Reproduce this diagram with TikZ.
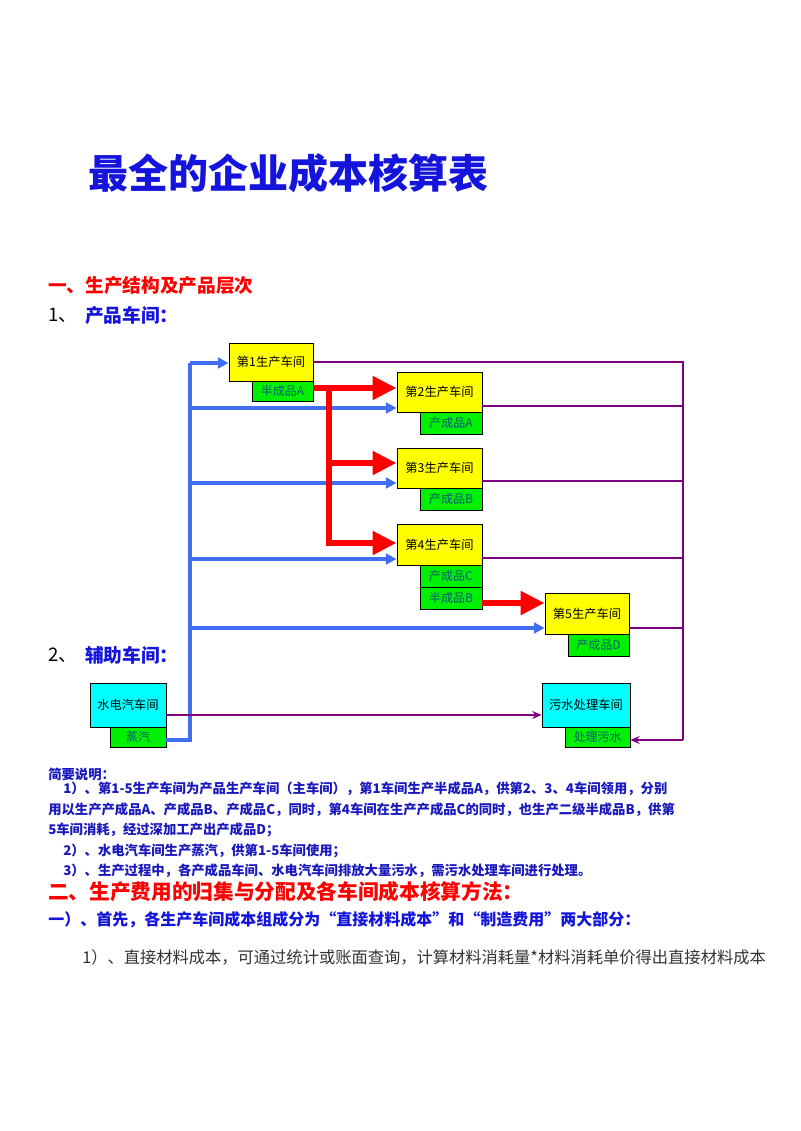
\documentclass[tikz,border=0pt]{standalone}
\usepackage{fontspec}
\setmainfont{Noto Sans CJK SC}
\usetikzlibrary{arrows.meta}
\definecolor{tblue}{RGB}{20,20,220}
\definecolor{dblue}{RGB}{25,25,190}
\definecolor{lblue}{RGB}{65,110,240}
\definecolor{purp}{RGB}{128,0,128}
\definecolor{gtxt}{RGB}{0,90,120}
\definecolor{ycol}{RGB}{255,255,0}
\definecolor{gcol}{RGB}{0,240,0}
\definecolor{ccol}{RGB}{0,255,255}
\begin{document}
\begin{tikzpicture}[x=0.75pt,y=-0.75pt,
  ybox/.style={draw=black,fill=ycol,line width=0.6pt,inner sep=0,font=\fontsize{9.2}{10}\selectfont,text=black},
  gbox/.style={draw=black,fill=gcol,line width=0.6pt,inner sep=0,font=\fontsize{9}{10}\selectfont,text=gtxt},
  cbox/.style={draw=black,fill=ccol,line width=0.6pt,inner sep=0,font=\fontsize{9.2}{10}\selectfont,text=black},
  bl/.style={draw=lblue,line width=2.3pt,-{Triangle[length=8pt,width=8pt]}},
  bll/.style={draw=lblue,line width=2.3pt},
  pu/.style={draw=purp,line width=1.5pt},
  pua/.style={draw=purp,line width=1.5pt,-{Stealth[length=7pt,width=6pt]}},
  rd/.style={draw=red,line width=5pt,-{Triangle[length=18pt,width=17pt]}},
  rdl/.style={draw=red,line width=5pt},
  txt/.style={anchor=west,inner sep=0,text=dblue,font=\fontsize{10}{12}\selectfont\bfseries}
]
\useasboundingbox (0,0) rectangle (800,1131);
\node[anchor=west,inner sep=0,text=tblue,font=\fontsize{30}{34}\selectfont\bfseries] (title) at (88,173) {最全的企业成本核算表};
\node[anchor=west,inner sep=0,text=red,font=\fontsize{14}{16}\selectfont\bfseries] (h1) at (48,285) {一、生产结构及产品层次};
\node[anchor=west,inner sep=0,font=\fontsize{14}{16}\selectfont] (n1) at (48,315) {1、};
\node[anchor=west,inner sep=0,text=tblue,font=\fontsize{14}{16}\selectfont\bfseries] (n1t) at (85,315) {产品车间：};
\node[anchor=west,inner sep=0,font=\fontsize{14}{16}\selectfont] (n2) at (48,655) {2、};
\node[anchor=west,inner sep=0,text=tblue,font=\fontsize{14}{16}\selectfont\bfseries] (n2t) at (85,655) {辅助车间：};
% boxes
\node[ybox,minimum width=63pt,minimum height=28.5pt] (b1) at (271,362) {第1生产车间};
\node[gbox,minimum width=45.75pt,minimum height=15pt] (g1) at (282.5,391) {半成品A};
\node[ybox,minimum width=63.75pt,minimum height=30pt] (b2) at (439.5,392) {第2生产车间};
\node[gbox,minimum width=46.5pt,minimum height=16.5pt] (g2) at (451,423) {产成品A};
\node[ybox,minimum width=63.75pt,minimum height=30pt] (b3) at (439.5,468) {第3生产车间};
\node[gbox,minimum width=46.5pt,minimum height=16.5pt] (g3) at (451,499) {产成品B};
\node[ybox,minimum width=63.75pt,minimum height=30.75pt] (b4) at (439.5,544.5) {第4生产车间};
\node[gbox,minimum width=46.5pt,minimum height=16.5pt] (g4) at (451,576) {产成品C};
\node[gbox,minimum width=46.5pt,minimum height=16.5pt] (g4b) at (451,598) {半成品B};
\node[ybox,minimum width=63pt,minimum height=30.75pt] (b5) at (587,613.5) {第5生产车间};
\node[gbox,minimum width=45.75pt,minimum height=16.5pt] (g5) at (598.5,645) {产成品D};
\node[cbox,minimum width=57pt,minimum height=33pt] (bw) at (128,705) {水电汽车间};
\node[gbox,minimum width=42pt,minimum height=15pt] (gw) at (138,737) {蒸汽};
\node[cbox,minimum width=66pt,minimum height=33pt] (bs) at (586,705) {污水处理车间};
\node[gbox,minimum width=48.75pt,minimum height=15pt] (gs) at (597.5,737) {处理污水};
% blue
\coordinate (t0) at (190,740);
\coordinate (t1) at (190,363);
\draw[bll] (gw.east |- t0) -- (t0) -- (t1);
\draw[bl] (t1) -- (b1.west |- t1);
\draw[bl] (190,408) -- (b2.west |- 0,408);
\draw[bl] (190,483) -- (b3.west |- 0,483);
\draw[bl] (190,559) -- (b4.west |- 0,559);
\draw[bl] (190,628) -- (b5.west |- 0,628);
% purple
\coordinate (pr) at (683,362);
\coordinate (pb) at (683,740);
\draw[pu] (b1.east |- pr) -- (pr) -- (pb);
\draw[pu] (b2.east |- 0,406) -- (683,406);
\draw[pu] (b3.east |- 0,481) -- (683,481);
\draw[pu] (b4.east |- 0,558) -- (683,558);
\draw[pu] (b5.east |- 0,628) -- (683,628);
\draw[pua] (pb) -- (gs.east |- pb);
\draw[pua] (bw.east |- 0,715) -- (bs.west |- 0,715);
% red
\coordinate (r0) at (329,388);
\coordinate (r1) at (329,546);
\draw[rd] (g1.east |- r0) -- (b2.west |- r0);
\draw[rdl] (r0) -- (r1);
\draw[rd] (327,463) -- (b3.west |- 0,463);
\draw[rd] (326.5,543) -- (b4.west |- 0,543);
\draw[rd] (g4b.east |- 0,603) -- (b5.west |- 0,603);
% notes
\node[txt] (s0) at (48,774) {简要说明：};
\node[txt] (s1) at (63,789) {1）、第1-5生产车间为产品生产车间（主车间），第1车间生产半成品A，供第2、3、4车间领用，分别};
\node[txt] (s2) at (48,810) {用以生产产成品A、产成品B、产成品C，同时，第4车间在生产产成品C的同时，也生产二级半成品B，供第};
\node[txt] (s3) at (48,830) {5车间消耗，经过深加工产出产成品D；};
\node[txt] (s4) at (63,851) {2）、水电汽车间生产蒸汽，供第1-5车间使用；};
\node[txt] (s5) at (63,871) {3）、生产过程中，各产成品车间、水电汽车间排放大量污水，需污水处理车间进行处理。};
\node[anchor=west,inner sep=0,text=red,font=\fontsize{15.5}{18}\selectfont\bfseries] (h2) at (48,892) {二、生产费用的归集与分配及各车间成本核算方法：};
\node[anchor=west,inner sep=0,text=tblue,font=\fontsize{12}{14}\selectfont\bfseries] (h3) at (48,920) {一）、首先，各生产车间成本组成分为“直接材料成本”和“制造费用”两大部分：};
\node[anchor=west,inner sep=0,text=black!80,font=\fontsize{12.2}{15}\selectfont] (l1) at (82,957) {1）、直接材料成本，可通过统计或账面查询，计算材料消耗量*材料消耗单价得出直接材料成本};
\end{tikzpicture}
\end{document}
